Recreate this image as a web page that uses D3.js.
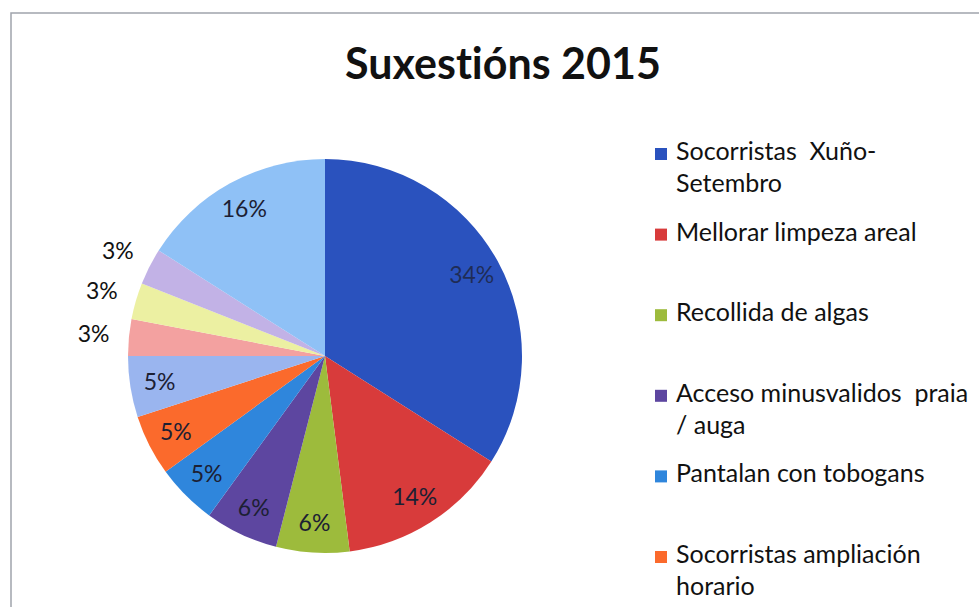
<!DOCTYPE html>
<html>
<head>
<meta charset="utf-8">
<script src="https://cdn.jsdelivr.net/npm/d3@7"></script>
<style>
  body { margin: 0; background: #fff; }
  text { font-family: Lato, "Noto Sans", sans-serif; font-variant-ligatures: none; }
</style>
</head>
<body>
<script>
+function(d3) {

  // values, clockwise from 12 o'clock
  const values = [34, 14, 6, 6, 5, 5, 5, 3, 3, 3, 16];

  // only the first six legend entries are visible in the picture
  const categories = [
    'Socorristas  Xuño-\nSetembro',
    'Mellorar limpeza areal',
    'Recollida de algas',
    'Acceso minusvalidos  praia\n/ auga',
    'Pantalan con tobogans',
    'Socorristas ampliación\nhorario'
  ];

  const colors = [
    '#2a52be', '#d83b3b', '#9dbb3c', '#5d46a0', '#2f86dc', '#fb6a2c',
    '#9ab5ef', '#f3a1a0', '#ecf0a2', '#c2b2e6', '#8fc1f6'
  ];

  // slices whose label sits outside the pie
  const outside = [7, 8, 9];

  const width = 979;
  const height = 607;
  const cx = 325;
  const cy = 356;
  const radius = 197;

  const svg = d3.select('body')
    .append('svg')
    .attr('width', width)
    .attr('height', height);

  // chart frame (cut off at right and bottom)
  svg.append('rect')
    .attr('x', 11)
    .attr('y', 13)
    .attr('width', width + 20)
    .attr('height', height + 20)
    .attr('fill', 'none')
    .attr('stroke', '#a0a4ac')
    .attr('stroke-width', 1.5);

  svg.append('text')
    .attr('x', 503)
    .attr('y', 79)
    .attr('text-anchor', 'middle')
    .attr('font-size', 43)
    .attr('font-weight', 'bold')
    .attr('fill', '#111')
    .text('Suxestións 2015');

  const color = d3.scaleOrdinal()
    .domain(d3.range(values.length))
    .range(colors);

  const pie = d3.pie()
    .value(d => d)
    .sort(null);

  const arc = d3.arc()
    .innerRadius(0)
    .outerRadius(radius);

  const labelArc = d3.arc()
    .innerRadius(radius * 0.85)
    .outerRadius(radius * 0.85);

  const outerArc = d3.arc()
    .innerRadius(radius * 1.18)
    .outerRadius(radius * 1.18);

  const g = svg.append('g')
    .attr('transform', `translate(${cx}, ${cy})`);

  const slices = pie(values);

  g.selectAll('path')
    .data(slices)
    .enter()
    .append('path')
    .attr('d', arc)
    .attr('fill', (d, i) => color(i));

  g.selectAll('text')
    .data(slices)
    .enter()
    .append('text')
    .attr('transform', (d, i) => {
      const c = outside.includes(i) ? outerArc.centroid(d) : labelArc.centroid(d);
      return `translate(${c[0]}, ${c[1]})`;
    })
    .attr('dy', '0.35em')
    .attr('text-anchor', 'middle')
    .attr('font-size', 23)
    .attr('fill', (d, i) => outside.includes(i) ? '#111' : '#1c2033')
    .attr('fill-opacity', (d, i) => i === 0 ? 0.75 : 1)
    .text(d => `${d.data}%`);

  // legend
  const legendY = d3.scaleLinear()
    .domain([0, categories.length - 1])
    .range([160, 563]);

  const legend = svg.append('g')
    .selectAll('g')
    .data(categories)
    .enter()
    .append('g')
    .attr('transform', (d, i) => `translate(655, ${legendY(i)})`);

  legend.append('rect')
    .attr('x', 0)
    .attr('y', -12)
    .attr('width', 12)
    .attr('height', 12)
    .attr('fill', (d, i) => color(i));

  legend.append('text')
    .attr('x', 21)
    .attr('font-size', 25)
    .attr('fill', '#111')
    .selectAll('tspan')
    .data(d => d.split('\n'))
    .enter()
    .append('tspan')
    .attr('x', 21)
    .attr('dy', (d, i) => i === 0 ? 0 : 32)
    .style('white-space', 'pre')
    .text(d => d);

}(d3);
</script>
</body>
</html>
